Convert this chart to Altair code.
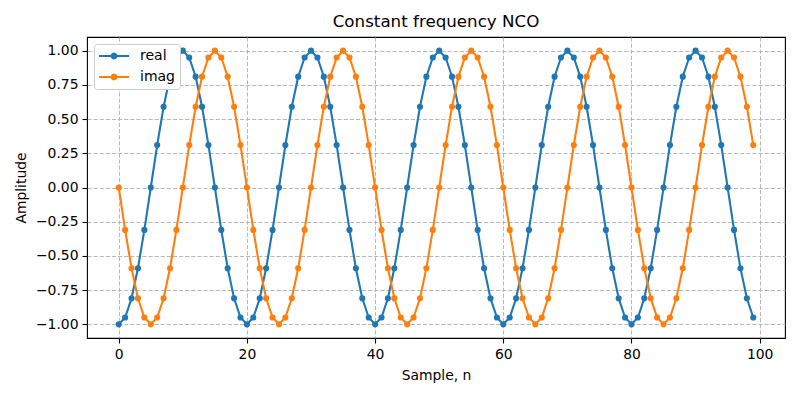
import altair as alt
import pandas as pd

n = list(range(100))

real = [
    -1.00, -0.95, -0.81, -0.59, -0.31, 0.00, 0.31, 0.59, 0.81, 0.95, 1.00, 0.95, 0.81, 0.59, 0.31, 0.00, -0.31, -0.59, -0.81, -0.95,
    -1.00, -0.95, -0.81, -0.59, -0.31, 0.00, 0.31, 0.59, 0.81, 0.95, 1.00, 0.95, 0.81, 0.59, 0.31, 0.00, -0.31, -0.59, -0.81, -0.95,
    -1.00, -0.95, -0.81, -0.59, -0.31, 0.00, 0.31, 0.59, 0.81, 0.95, 1.00, 0.95, 0.81, 0.59, 0.31, 0.00, -0.31, -0.59, -0.81, -0.95,
    -1.00, -0.95, -0.81, -0.59, -0.31, 0.00, 0.31, 0.59, 0.81, 0.95, 1.00, 0.95, 0.81, 0.59, 0.31, 0.00, -0.31, -0.59, -0.81, -0.95,
    -1.00, -0.95, -0.81, -0.59, -0.31, 0.00, 0.31, 0.59, 0.81, 0.95, 1.00, 0.95, 0.81, 0.59, 0.31, 0.00, -0.31, -0.59, -0.81, -0.95,
]
imag = [
    0.00, -0.31, -0.59, -0.81, -0.95, -1.00, -0.95, -0.81, -0.59, -0.31, 0.00, 0.31, 0.59, 0.81, 0.95, 1.00, 0.95, 0.81, 0.59, 0.31,
    0.00, -0.31, -0.59, -0.81, -0.95, -1.00, -0.95, -0.81, -0.59, -0.31, 0.00, 0.31, 0.59, 0.81, 0.95, 1.00, 0.95, 0.81, 0.59, 0.31,
    0.00, -0.31, -0.59, -0.81, -0.95, -1.00, -0.95, -0.81, -0.59, -0.31, 0.00, 0.31, 0.59, 0.81, 0.95, 1.00, 0.95, 0.81, 0.59, 0.31,
    0.00, -0.31, -0.59, -0.81, -0.95, -1.00, -0.95, -0.81, -0.59, -0.31, 0.00, 0.31, 0.59, 0.81, 0.95, 1.00, 0.95, 0.81, 0.59, 0.31,
    0.00, -0.31, -0.59, -0.81, -0.95, -1.00, -0.95, -0.81, -0.59, -0.31, 0.00, 0.31, 0.59, 0.81, 0.95, 1.00, 0.95, 0.81, 0.59, 0.31,
]
series_names = ["real", "imag"]
series_colors = ["#1f77b4", "#ff7f0e"]
x_ticks = [0, 20, 40, 60, 80, 100]
y_ticks = [-1.0, -0.75, -0.5, -0.25, 0.0, 0.25, 0.5, 0.75, 1.0]

df = pd.concat([
    pd.DataFrame({"n": n, "value": real, "series": "real"}),
    pd.DataFrame({"n": n, "value": imag, "series": "imag"}),
])

FONT = "DejaVu Sans"

x = alt.X("n:Q", scale=alt.Scale(domain=[-4.95, 103.95], nice=False, zero=False),
          axis=alt.Axis(values=x_ticks, title="Sample, n", format="d"))
y = alt.Y("value:Q", scale=alt.Scale(domain=[-1.1, 1.1], nice=False, zero=False),
          axis=alt.Axis(values=y_ticks, title="Amplitude", format=".2f"))
color_scale = alt.Scale(domain=series_names, range=series_colors)
# same mapping, listed in another order so the line legend is not merged with the dot legend
stroke_scale = alt.Scale(domain=series_names[::-1], range=series_colors[::-1])

# legend glyph: short line with a dot
legend_path = (
    "M-1,-0.07L1,-0.07L1,0.07L-1,0.07Z"
    "M0.235,0L0.2035,0.1175L0.1175,0.2035L0,0.235L-0.1175,0.2035L-0.2035,0.1175"
    "L-0.235,0L-0.2035,-0.1175L-0.1175,-0.2035L0,-0.235L0.1175,-0.2035L0.2035,-0.1175Z"
)

legend = alt.Legend(
    title=None, orient="none", legendX=7, legendY=7,
    symbolType=legend_path, symbolSize=900, symbolStrokeWidth=0,
    symbolOpacity=1, clipHeight=14, rowPadding=7,
    labelFontSize=14, labelFont=FONT, labelOffset=11,
    padding=5, fillColor="white", strokeColor="#cccccc",
    cornerRadius=3, labelColor="black",
)
color = alt.Color("series:N", scale=color_scale, legend=legend)
stroke = alt.Stroke("series:N", scale=stroke_scale, legend=None)

layers = []
for s in series_names:
    base = alt.Chart(df).transform_filter(alt.datum.series == s)
    line = base.mark_line(strokeWidth=2.1).encode(x=x, y=y, stroke=stroke)
    pts = base.mark_circle(size=38, opacity=1).encode(x=x, y=y, color=color)
    layers += [line, pts]

chart = alt.layer(*layers).properties(
    width=698, height=301,
    title=alt.Title("Constant frequency NCO", fontSize=16.7, font=FONT,
                    fontWeight="normal", color="black", offset=6, anchor="middle"),
    autosize=alt.AutoSizeParams(type="none"),
    padding={"left": 79, "top": 29, "right": 7, "bottom": 54},
).configure_view(stroke="black", strokeWidth=1.1).configure_axis(
    labelFont=FONT, labelFontSize=13.9, labelColor="black",
    titleFont=FONT, titleFontSize=13.9, titleFontWeight="normal", titleColor="black",
    tickColor="black", tickSize=5, tickWidth=1.1, labelPadding=4,
    domain=False, grid=True, gridColor="#b0b0b0", gridDash=[4.2, 1.9], gridWidth=0.9,
).configure_axisX(titlePadding=8).configure_axisY(titlePadding=7)

chart.save("out.html", embed_options={"renderer": "svg", "actions": False})
